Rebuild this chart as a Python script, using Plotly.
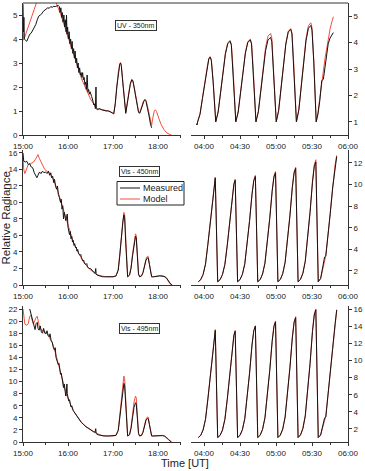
import pandas as pd
import plotly.graph_objects as go

# ---------------- DATA ----------------
# Left panels: minutes after 15:00 ; right panels: minutes after 04:00
uv_left_meas_t = [0, 0.6, 1.2, 1.8, 3, 5, 7, 9, 11, 13, 15, 17, 19, 21, 23, 25, 27, 29, 31, 33, 35, 37, 39, 41, 43, 45, 47,
                  48.5, 49.5, 50.5, 51.5, 52.5, 53.5, 54.5, 55.5, 56.5, 57.5, 58, 58.7, 59.5, 60.5, 61.5, 62.5, 63.5, 64.5,
                  65.5, 66.5, 67.5, 68.5, 69.5, 70.5, 71.5, 72.5, 73.5, 74.5, 75.5, 76.5, 77.5, 78.5, 79.5, 80.5, 81.5,
                  82.5, 83.5, 84.5, 85.5, 86.5, 87.5, 88.5, 89.5, 90.5, 91.5, 92.5, 93.5, 94.5, 95.5, 96.5, 97.3, 97.8,
                  99, 102, 105, 108, 111, 114, 117, 119, 121, 123, 125, 127, 129, 130, 131, 133, 135, 137, 139, 141, 143,
                  145, 146.5, 148, 150, 152, 154, 155.5, 157, 159, 161, 162.7, 164, 166, 168, 170, 171.5]
uv_left_meas_v = [5.45, 4.3, 4.9, 4.0, 3.95, 3.9, 4.05, 4.2, 4.25, 4.35, 4.45, 4.6, 4.8, 4.95, 5.0, 5.05, 5.15, 5.2, 5.25,
                  5.3, 5.28, 5.35, 5.32, 5.36, 5.35, 5.38, 5.4,
                  5.35, 5.1, 5.3, 4.9, 5.1, 4.7, 5.0, 4.5, 4.8, 4.3, 5.0, 4.2, 4.5, 4.0, 4.3, 3.8, 4.0, 3.6,
                  3.9, 3.4, 3.6, 3.2, 3.5, 3.0, 3.2, 2.8, 3.0, 2.6, 2.8, 2.5, 2.6, 2.4, 2.6, 2.3, 2.4,
                  2.1, 2.2, 1.9, 2.5, 1.8, 1.9, 1.7, 1.8, 1.6, 1.6, 1.5, 1.4, 1.25, 1.3, 1.1, 2.0, 1.1,
                  1.05, 1.1, 1.05, 1.02, 1.0, 1.0, 0.97, 0.92, 0.88, 1.3, 2.0, 2.6, 2.95, 3.0, 2.9, 2.2, 1.4, 0.9, 1.3,
                  1.75, 2.1, 2.3, 2.25, 2.0, 1.6, 1.2, 0.95, 0.9, 1.0, 1.2, 1.4, 1.45, 1.4, 1.15, 0.8, 0.45, 0.3]
uv_left_model_t = [0, 1, 2, 18, 20, 42, 44, 46, 48, 50, 52, 54, 56, 58, 60, 62, 64, 66, 68, 70, 72, 74, 76, 78, 80, 82, 84,
                   86, 88, 90, 92, 94, 96, 98, 101, 105, 110, 115, 119, 121, 123, 125, 127, 129, 130, 131, 133, 135, 137,
                   139, 141, 143, 145, 146.5, 148, 150, 152, 154, 155.5, 157, 159, 161, 162.7, 164, 166, 168, 170, 171.5,
                   173, 175, 176.5, 178, 181, 184, 188, 192, 196, 198]
uv_left_model_v = [4.4, 3.95, 4.05, 5.5, 5.7, 5.7, 5.5, 5.35, 5.2, 5.05, 4.85, 4.65, 4.45, 4.3, 4.15, 3.95, 3.75, 3.55, 3.35,
                   3.15, 2.95, 2.75, 2.55, 2.35, 2.2, 2.05, 1.9, 1.75, 1.6, 1.5, 1.4, 1.3, 1.2, 1.12, 1.08, 1.05, 1.02, 1.0,
                   0.93, 0.9, 1.3, 2.0, 2.6, 2.95, 3.02, 2.92, 2.25, 1.45, 0.95, 1.35, 1.8, 2.15, 2.32, 2.28, 2.05, 1.65,
                   1.25, 0.98, 0.92, 1.05, 1.25, 1.45, 1.5, 1.45, 1.2, 0.85, 0.5, 0.4, 0.7, 1.0, 1.05, 0.98, 0.7, 0.45,
                   0.22, 0.08, 0.02, 0.0]

uv_right_t = [-6.3, -5.8, -5.3, -3.3, -1.3, 0.7, 2.7, 4.0, 5.1, 6.1, 7.6,
              9.8, 11.8, 13.8, 15.8, 17.8, 19.8, 21.8, 22.8, 24.3,
              26.5, 28.5, 30.5, 32.5, 34.5, 36.5, 38.6, 39.6, 41.1,
              43.3, 45.3, 47.3, 49.3, 51.3, 53.3, 55.5, 56.5, 58.0,
              60.2, 62.2, 64.2, 66.2, 68.2, 70.2, 72.3, 73.3, 74.8,
              77.0, 79.0, 81.0, 83.0, 85.0, 87.0, 89.0, 90.0, 91.5,
              93.5, 95.0, 96.5, 98.1, 99.5, 101.0, 102.2, 103.5, 105.0, 106.5, 107.8]
uv_right_meas = [0.92, 0.88, 1.0, 1.29, 1.88, 2.52, 3.06, 3.38, 3.45, 3.33, 2.52,
                 1.0, 1.37, 2.1, 2.89, 3.56, 3.96, 4.05, 3.9, 2.89,
                 1.0, 1.37, 2.12, 2.92, 3.6, 4.01, 4.1, 3.95, 2.92,
                 1.0, 1.38, 2.15, 2.98, 3.69, 4.1, 4.2, 4.04, 2.98,
                 1.0, 1.42, 2.26, 3.17, 3.94, 4.4, 4.5, 4.33, 3.17,
                 1.0, 1.44, 2.31, 3.26, 4.07, 4.54, 4.65, 4.47, 3.26,
                 1.0, 1.3, 1.8, 2.55, 2.62, 3.2, 3.6, 3.95, 4.17, 4.28, 4.38]
uv_right_model = [0.92, 0.9, 1.0, 1.3, 1.9, 2.55, 3.08, 3.4, 3.47, 3.35, 2.55,
                  1.0, 1.38, 2.12, 2.92, 3.6, 4.0, 4.08, 3.93, 2.92,
                  1.0, 1.38, 2.14, 2.95, 3.63, 4.04, 4.13, 3.98, 2.95,
                  1.0, 1.4, 2.2, 3.07, 3.81, 4.25, 4.35, 4.18, 3.05,
                  1.0, 1.43, 2.28, 3.2, 3.97, 4.43, 4.53, 4.36, 3.2,
                  1.0, 1.45, 2.35, 3.33, 4.15, 4.64, 4.75, 4.56, 3.3,
                  1.0, 1.35, 1.9, 2.5, 3.0, 3.45, 3.75, 4.15, 4.5, 4.78, 4.98]

v450_left_meas_t = [0, 1, 3, 5, 7, 9, 11, 13, 15, 17, 18.5, 20, 22, 24, 26, 28, 30, 32, 34, 35.5, 37, 38, 39.5, 41, 42,
                    43.5, 45, 46, 47, 48.5, 50, 51, 52, 53, 54, 55, 56, 57, 58, 59, 60, 61, 62, 63, 64, 65, 66, 67, 68,
                    69, 70, 71, 72, 73, 74, 76, 77, 78, 80, 81, 82, 84, 85, 86, 88, 90, 92, 94, 96, 97, 97.5, 99, 102,
                    106, 110, 115, 120, 124, 127, 129, 131, 133, 134.5, 135.5, 137, 138.5, 139.5, 142, 144, 146, 148,
                    150, 151, 152.5, 154, 155.5, 158, 160, 162, 164, 166, 167, 168.5, 170, 171.5, 174, 177, 179, 182,
                    185, 188, 191, 193, 195, 197, 199]
v450_left_meas_v = [16.0, 15.0, 14.9, 15.0, 14.6, 14.7, 14.3, 14.2, 13.6, 13.2, 13.0, 13.3, 13.7, 13.5, 13.8, 13.6, 13.7,
                    13.5, 13.8, 13.3, 13.6, 13.0, 13.2, 12.4, 12.8, 11.9, 11.6, 12.0, 11.0, 10.6, 10.0, 10.4, 9.2, 9.6,
                    8.0, 8.8, 8.2, 7.8, 8.2, 8.6, 7.0, 6.6, 6.1, 6.5, 5.6, 5.9, 5.2, 5.4, 4.8, 5.0, 4.5, 4.6, 4.1, 4.3,
                    3.8, 3.6, 3.7, 3.3, 2.9, 3.0, 2.6, 2.5, 2.6, 2.2, 2.0, 2.0, 1.8, 1.6, 1.4, 2.0, 1.3, 1.2, 1.1, 1.0,
                    1.0, 1.0, 1.0, 1.1, 1.8, 3.5, 5.8, 7.6, 8.5, 8.2, 5.0, 1.6, 1.0, 1.2, 2.0, 3.5, 5.0, 5.9, 5.7, 3.5,
                    1.3, 1.0, 1.1, 1.5, 2.3, 3.0, 3.3, 3.25, 2.5, 1.5, 1.0, 1.0, 1.0, 1.05, 1.1, 1.1, 1.05, 0.9, 0.6,
                    0.3, 0.1, 0.0]
v450_left_model_t = [0, 1, 2.4, 5, 7, 10, 14, 17, 20, 22, 25, 29, 33, 36, 39, 42, 45, 48, 51, 53, 55, 57, 59, 61, 63,
                     65, 67, 69, 71, 73, 75, 77, 80, 83, 86, 89, 92, 95, 98, 102, 106, 110, 120, 124, 127, 129, 131, 133,
                     134.5, 135.5, 137, 138.5, 139.5, 142, 144, 146, 148, 150, 151, 152.5, 154, 155.5, 158, 160, 162,
                     164, 166, 167, 168.5, 170, 171.5, 174, 177, 180, 183, 186, 189, 192, 194, 196, 198]
v450_left_model_v = [15.3, 14.0, 13.5, 14.2, 14.6, 14.7, 14.9, 15.3, 15.8, 15.3, 14.8, 14.0, 13.7, 13.5, 13.1, 12.5,
                     11.8, 10.9, 10.0, 9.3, 8.6, 8.0, 7.4, 6.8, 6.2, 5.7, 5.2, 4.8, 4.4, 4.0, 3.7, 3.4, 2.9, 2.5, 2.2,
                     1.9, 1.7, 1.5, 1.3, 1.15, 1.05, 1.0, 1.0, 1.1, 1.9, 3.7, 6.0, 8.0, 8.8, 8.5, 5.2, 1.7, 1.0, 1.2,
                     2.1, 3.7, 5.3, 6.2, 6.0, 3.7, 1.4, 1.0, 1.1, 1.5, 2.4, 3.2, 3.5, 3.45, 2.6, 1.6, 1.0, 1.0, 1.05,
                     1.1, 1.15, 1.1, 1.0, 0.7, 0.4, 0.15, 0.02]

vis_right_t = [-4.75, -2.75, -0.75, 1.25, 3.25, 5.25, 7.25, 8.4, 9.4,
               11.4, 13.4, 15.4, 17.4, 19.4, 21.4, 23.4, 24.9, 26.0,
               28.0, 30.0, 32.0, 34.0, 36.0, 38.0, 40.0, 41.5, 42.8,
               44.8, 46.8, 48.8, 50.8, 52.8, 54.8, 56.8, 58.3, 59.6,
               61.6, 63.6, 65.6, 67.6, 69.6, 71.6, 73.6, 75.1, 76.4,
               78.4, 80.4, 82.4, 84.4, 86.4, 88.4, 90.4, 91.9, 93.2,
               95.2, 97.2, 99.2, 100.5, 101.5, 103.2, 105.2, 107.2, 109.2, 110.6]
v450_right_meas = [1.0, 1.19, 1.67, 2.63, 4.46, 6.57, 8.97, 10.1, 10.6,
                   1.0, 1.19, 1.66, 2.6, 4.38, 6.45, 8.8, 10.02, 10.4,
                   1.0, 1.2, 1.68, 2.66, 4.51, 6.66, 9.09, 10.36, 10.75,
                   1.0, 1.2, 1.71, 2.72, 4.64, 6.86, 9.38, 10.7, 11.1,
                   1.0, 1.21, 1.74, 2.79, 4.78, 7.09, 9.72, 11.08, 11.5,
                   1.0, 1.22, 1.78, 2.89, 5.0, 7.44, 10.21, 11.66, 12.1,
                   1.0, 1.3, 2.4, 3.3, 3.4, 5.0, 7.3, 9.7, 11.6, 12.6]
v450_right_model = [1.0, 1.19, 1.68, 2.65, 4.5, 6.62, 9.03, 10.2, 10.7,
                    1.0, 1.2, 1.68, 2.63, 4.42, 6.5, 8.86, 10.1, 10.5,
                    1.0, 1.2, 1.69, 2.68, 4.55, 6.7, 9.13, 10.42, 10.85,
                    1.0, 1.21, 1.73, 2.75, 4.68, 6.92, 9.45, 10.8, 11.2,
                    1.0, 1.22, 1.76, 2.82, 4.82, 7.15, 9.8, 11.18, 11.6,
                    1.0, 1.23, 1.8, 2.93, 5.05, 7.52, 10.32, 11.82, 12.3,
                    1.0, 1.3, 2.2, 2.9, 3.4, 5.2, 7.5, 9.9, 11.8, 12.7]

v495_left_meas_t = [9, 10.5, 12, 13.5, 15, 16, 17.5, 19, 20, 21.5, 23, 24.5, 26, 27.5, 29, 30.5, 32, 33.5, 35, 36, 37.5,
                    39, 40.5, 42, 43, 44, 45.5, 47, 48, 49, 50, 51, 52, 53, 54, 55, 56, 57, 58, 58.5, 59, 60, 61, 62,
                    63, 64, 65, 66, 67, 68, 70, 72, 74, 76, 78, 80, 82, 84, 86, 88, 90, 92, 94, 96, 97, 97.5, 100, 104,
                    108, 115, 120, 124, 127, 129, 131, 133, 134.5, 135.5, 137, 138.5, 139.5, 142, 144, 146, 148, 150,
                    151, 152.5, 154, 155.5, 158, 160, 162, 164, 166, 167, 168.5, 170, 171.5, 174, 177, 180, 183, 186,
                    189, 192, 194, 196, 198]
v495_left_meas_v = [22.0, 21.3, 20.6, 20.0, 19.0, 18.6, 19.6, 19.8, 18.8, 18.5, 19.2, 18.2, 18.0, 18.8, 18.0, 17.9, 18.4,
                    17.6, 17.4, 17.9, 16.8, 16.5, 15.6, 15.2, 15.6, 14.0, 13.4, 12.8, 13.0, 11.6, 11.2, 11.4, 10.4, 10.0,
                    9.0, 9.6, 8.6, 7.6, 8.4, 9.6, 8.0, 7.2, 6.8, 7.0, 6.2, 5.8, 6.0, 5.4, 5.2, 5.0, 4.6, 4.2, 3.8, 3.5,
                    3.2, 3.0, 2.7, 2.5, 2.4, 2.2, 2.0, 1.9, 1.7, 1.6, 2.2, 1.4, 1.2, 1.1, 1.0, 1.0, 1.0, 1.1, 1.9, 4.0,
                    6.8, 8.9, 9.7, 9.3, 5.6, 1.8, 1.0, 1.2, 2.2, 4.0, 5.7, 6.5, 6.3, 3.9, 1.4, 1.0, 1.1, 1.6, 2.7, 3.6,
                    3.9, 3.85, 2.9, 1.7, 1.0, 1.0, 1.0, 1.05, 1.1, 1.05, 0.95, 0.7, 0.4, 0.15, 0.0]
v495_left_model_t = [0, 1, 2.5, 5, 7, 9, 10.5, 12, 13.5, 15, 17, 19, 20.5, 22, 24, 27, 30, 33, 36, 39, 42, 45, 48, 51,
                     53, 55, 57, 59, 61, 63, 65, 67, 69, 71, 73, 75, 77, 80, 83, 86, 89, 92, 95, 98, 102, 106, 110, 120,
                     124, 127, 129, 131, 133, 134.5, 135.5, 137, 138.5, 139.5, 142, 144, 146, 148, 150, 151, 152.5, 154,
                     155.5, 158, 160, 162, 164, 166, 167, 168.5, 170, 171.5, 174, 177, 180, 183, 186, 189, 192, 194, 196,
                     198]
v495_left_model_v = [22.0, 20.5, 19.5, 19.3, 19.6, 20.8, 21.0, 20.2, 19.6, 19.8, 20.5, 20.8, 19.5, 19.0, 18.6, 18.4, 18.2,
                     17.8, 17.2, 16.4, 15.3, 13.8, 12.4, 11.0, 10.2, 9.2, 8.3, 7.5, 6.8, 6.2, 5.7, 5.2, 4.8, 4.4, 4.0,
                     3.7, 3.4, 3.0, 2.6, 2.3, 2.1, 1.9, 1.7, 1.4, 1.2, 1.05, 1.0, 1.0, 1.1, 2.0, 4.3, 7.4, 9.8, 10.9,
                     10.5, 6.2, 2.0, 1.0, 1.2, 2.4, 4.5, 6.6, 7.6, 7.3, 4.4, 1.5, 1.0, 1.1, 1.7, 2.8, 3.8, 4.15, 4.1,
                     3.0, 1.8, 1.0, 1.0, 1.05, 1.1, 1.15, 1.1, 1.0, 0.7, 0.4, 0.15, 0.02]

v495_right_meas = [1.0, 1.25, 1.88, 3.13, 5.5, 8.25, 11.38, 12.8, 13.5,
                   1.0, 1.25, 1.87, 3.11, 5.46, 8.19, 11.29, 12.9, 13.4,
                   1.0, 1.26, 1.91, 3.21, 5.68, 8.54, 11.79, 13.48, 14.0,
                   1.0, 1.27, 1.95, 3.3, 5.86, 8.83, 12.21, 13.96, 14.5,
                   1.0, 1.28, 1.98, 3.38, 6.04, 9.12, 12.62, 14.44, 15.0,
                   1.0, 1.3, 2.04, 3.53, 6.36, 9.64, 13.37, 15.3, 15.9,
                   1.0, 1.3, 2.5, 3.3, 3.4, 5.6, 8.4, 11.4, 14.2, 15.9]
v495_right_model = [1.0, 1.25, 1.9, 3.15, 5.55, 8.3, 11.45, 12.9, 13.6,
                    1.0, 1.26, 1.89, 3.14, 5.5, 8.25, 11.36, 13.0, 13.5,
                    1.0, 1.26, 1.92, 3.23, 5.7, 8.57, 11.83, 13.5, 14.05,
                    1.0, 1.28, 1.97, 3.33, 5.9, 8.88, 12.28, 14.05, 14.6,
                    1.0, 1.29, 2.0, 3.41, 6.08, 9.18, 12.7, 14.52, 15.1,
                    1.0, 1.31, 2.06, 3.56, 6.4, 9.7, 13.45, 15.4, 16.0,
                    1.0, 1.3, 2.3, 3.0, 3.5, 5.8, 8.6, 11.6, 14.3, 15.9]

panel_labels = ["UV - 350nm", "Vis - 450nm", "Vis - 495nm"]
series_names = ["Measured", "Model"]

# ---------------- FIGURE ----------------
W, H = 365, 471
BASE_L = pd.Timestamp("2000-01-01 15:00")
BASE_R = pd.Timestamp("2000-01-01 04:00")


def tl(mins):
    return BASE_L + pd.to_timedelta(mins, unit="m")


def tr(mins):
    return BASE_R + pd.to_timedelta(mins, unit="m")


def px(x):
    return x / W


def py(y):
    return 1 - y / H


MEAS_C = "#141414"
MODEL_C = "#f4503c"

fig = go.Figure()

panels = [
    ("x", "y", tl, uv_left_meas_t, uv_left_meas_v, uv_left_model_t, uv_left_model_v),
    ("x2", "y2", tr, uv_right_t, uv_right_meas, uv_right_t, uv_right_model),
    ("x3", "y3", tl, v450_left_meas_t, v450_left_meas_v, v450_left_model_t, v450_left_model_v),
    ("x4", "y4", tr, vis_right_t, v450_right_meas, vis_right_t, v450_right_model),
    ("x5", "y5", tl, v495_left_meas_t, v495_left_meas_v, v495_left_model_t, v495_left_model_v),
    ("x6", "y6", tr, vis_right_t, v495_right_meas, vis_right_t, v495_right_model),
]
for xa, ya, fn, mt, mv, ot, ov in panels:
    fig.add_trace(go.Scatter(x=fn(ot), y=ov, mode="lines", name=series_names[1],
                             line=dict(color=MODEL_C, width=1), xaxis=xa, yaxis=ya, showlegend=False))
    fig.add_trace(go.Scatter(x=fn(mt), y=mv, mode="lines", name=series_names[0],
                             line=dict(color=MEAS_C, width=1), xaxis=xa, yaxis=ya, showlegend=False))

FONT = "Liberation Sans, Arial, sans-serif"
AX = dict(showline=True, linecolor="#333", linewidth=1, ticks="outside", ticklen=3, tickwidth=1,
          tickcolor="#333", showgrid=False, zeroline=False, automargin=False,
          tickfont=dict(family=FONT, size=8, color="#222"))

XL = [px(23), px(181)]
XR = [px(191), px(348)]
ROWS = [[py(135), py(3)], [py(285), py(150)], [py(442), py(306)]]

left_range = ["2000-01-01 15:00:00", "2000-01-01 18:30:40"]
right_range = ["2000-01-01 03:49:10", "2000-01-01 06:00:00"]

yl_ranges = [[0, 5.5], [0, 16.36], [0, 22.5]]
yr_ranges = [[0.5, 5.5], [0.7, 13.2], [0.48, 16.35]]
yl_dticks = [1, 2, 2]
yr_dticks = [1, 2, 2]
yr_tick0 = [1, 2, 2]

layout = {}
for r in range(3):
    li = 2 * r + 1
    ri = 2 * r + 2
    lx = "xaxis" if li == 1 else f"xaxis{li}"
    ly = "yaxis" if li == 1 else f"yaxis{li}"
    rx = f"xaxis{ri}"
    ry = f"yaxis{ri}"
    layout[lx] = dict(AX, domain=XL, type="date", range=left_range, anchor=("y" if li == 1 else f"y{li}"),
                      tickformat="%H:%M", tick0="2000-01-01 15:00", dtick=3600000,
                      minor=dict(ticks="outside", ticklen=2, dtick=1800000, tickcolor="#333"))
    layout[ly] = dict(AX, domain=ROWS[r], range=yl_ranges[r], anchor=("x" if li == 1 else f"x{li}"),
                      side="left", tick0=0, dtick=yl_dticks[r])
    layout[rx] = dict(AX, domain=XR, type="date", range=right_range, anchor=f"y{ri}",
                      tickformat="%H:%M", tick0="2000-01-01 04:00", dtick=1800000,
                      minor=dict(ticks="outside", ticklen=2, dtick=900000, tickcolor="#333"))
    layout[ry] = dict(AX, domain=ROWS[r], range=yr_ranges[r], anchor=f"x{ri}", side="right",
                      tick0=yr_tick0[r], dtick=yr_dticks[r])

shapes = [
    dict(type="line", xref="paper", yref="paper", x0=px(23), x1=px(348), y0=py(3), y1=py(3),
         line=dict(color="#333", width=1)),
    dict(type="rect", xref="paper", yref="paper", x0=px(117), x1=px(184), y0=py(181.5), y1=py(205),
         line=dict(color="#222", width=1), fillcolor="white"),
    dict(type="line", xref="paper", yref="paper", x0=px(120), x1=px(140), y0=py(188), y1=py(188),
         line=dict(color=MEAS_C, width=1)),
    dict(type="line", xref="paper", yref="paper", x0=px(120), x1=px(140), y0=py(199), y1=py(199),
         line=dict(color=MODEL_C, width=1)),
]

ann = []
for label, (cx, cy) in zip(panel_labels, [(136, 25.5), (139.5, 171.5), (139.5, 328)]):
    ann.append(dict(text=label, x=px(cx), y=py(cy), xref="paper", yref="paper", showarrow=False,
                    xanchor="center", yanchor="middle", font=dict(family=FONT, size=7, color="#222"),
                    bordercolor="#333", borderwidth=1, borderpad=1, bgcolor="white"))
ann.append(dict(text=series_names[0], x=px(141), y=py(188), xref="paper", yref="paper", showarrow=False,
                xanchor="left", yanchor="middle", font=dict(family=FONT, size=9, color="#222")))
ann.append(dict(text=series_names[1], x=px(141), y=py(199), xref="paper", yref="paper", showarrow=False,
                xanchor="left", yanchor="middle", font=dict(family=FONT, size=9, color="#222")))
ann.append(dict(text="Relative Radiance", x=px(5.5), y=py(218), xref="paper", yref="paper", showarrow=False,
                textangle=-90, xanchor="center", yanchor="middle", font=dict(family=FONT, size=11.5, color="#222")))
ann.append(dict(text="Time [UT]", x=px(185), y=py(463), xref="paper", yref="paper", showarrow=False,
                xanchor="center", yanchor="middle", font=dict(family=FONT, size=11, color="#222")))

fig.update_layout(width=W, height=H, margin=dict(l=0, r=0, t=0, b=0, autoexpand=False), paper_bgcolor="white",
                  plot_bgcolor="white", showlegend=False, shapes=shapes, annotations=ann, **layout)

fig.write_html("out.html")
